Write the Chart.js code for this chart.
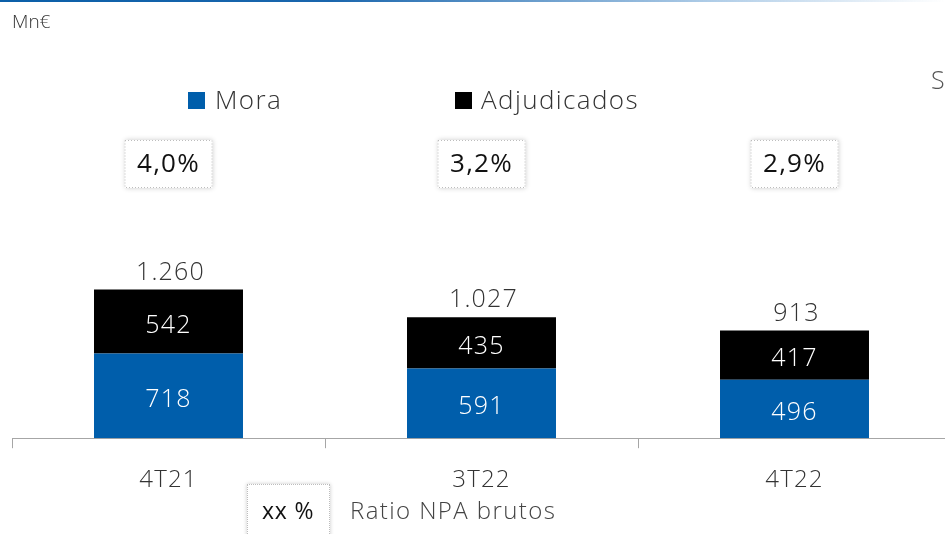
<!DOCTYPE html>
<html>
<head>
<meta charset="utf-8">
<script src="https://cdn.jsdelivr.net/npm/chart.js@4.4.1/dist/chart.umd.min.js"></script>
<style>
  html, body { margin:0; padding:0; background:#fff; width:945px; height:534px; overflow:hidden; position:relative; font-family:'Open Sans', sans-serif; font-weight:300; color:#333; }
  #wrap { position:absolute; left:0; top:0; width:960px; height:534px; }
  .abs { position:absolute; white-space:nowrap; letter-spacing:1.4px; }
  #topline { left:0; top:0; width:945px; height:2px; background:linear-gradient(to right, #0b5fa8 0%, #1a66ad 35%, rgba(120,170,215,0.6) 75%, rgba(255,255,255,0) 100%); }
  .sq { position:absolute; width:17px; height:17px; }
  .box { position:absolute; background:#fff; border:1px dotted #bdbdbd; box-shadow:0 0 4px rgba(0,0,0,0.22); }
</style>
</head>
<body>
<div id="wrap"><canvas id="c" width="960" height="534"></canvas></div>
<div id="topline" class="abs"></div>
<div class="abs" style="left:12px; top:8px; font-size:19px; color:#333; letter-spacing:0;">Mn€</div>
<div class="abs" style="left:931px; top:62px; font-size:25px; color:#555;">S</div>
<div class="sq" style="left:188px; top:92px; background:#005eab;"></div>
<div class="abs" style="left:215px; top:81px; font-size:26px; color:#333;">Mora</div>
<div class="sq" style="left:455px; top:92px; background:#000;"></div>
<div class="abs" style="left:481px; top:81px; font-size:26px; color:#333;">Adjudicados</div>
<div class="box" style="left:247px; top:484px; width:81px; height:70px;"></div>
<div class="abs" style="left:262px; top:494px; font-size:23px; color:#111; font-weight:400; letter-spacing:0.8px;">xx %</div>
<div class="abs" style="left:350px; top:493px; font-size:24px; color:#444;">Ratio NPA brutos</div>
<script>
const categories = ['4T21', '3T22', '4T22'];
const mora = [718, 591, 496];
const adjudicados = [542, 435, 417];
const totals = [1260, 1027, 913];
const ratioNPA = ['4,0%', '3,2%', '2,9%'];

const FONT = "'Open Sans', sans-serif";

function fmtThousands(v) {
  return String(v).replace(/\B(?=(\d{3})+(?!\d))/g, '.');
}

const spacingPlugin = {
  id: 'spacing',
  beforeInit(chart) { chart.ctx.letterSpacing = '1.2px'; },
  beforeDraw(chart) { chart.ctx.letterSpacing = '1.2px'; }
};

const labelPlugin = {
  id: 'labels',
  afterDatasetsDraw(chart) {
    const ctx = chart.ctx;
    ctx.save();
    ctx.letterSpacing = '1.2px';
    ctx.textAlign = 'center';
    ctx.textBaseline = 'middle';
    ctx.font = `300 25px ${FONT}`;
    chart.data.datasets.forEach((ds, di) => {
      const meta = chart.getDatasetMeta(di);
      meta.data.forEach((bar, i) => {
        ctx.fillStyle = '#ffffff';
        ctx.fillText(String(ds.data[i]), bar.x, (bar.y + bar.base) / 2 + 4);
      });
    });
    const topMeta = chart.getDatasetMeta(chart.data.datasets.length - 1);
    topMeta.data.forEach((bar, i) => {
      ctx.fillStyle = '#333333';
      ctx.fillText(fmtThousands(totals[i]), bar.x + 2, bar.y - 17);
    });
    topMeta.data.forEach((bar, i) => {
      const w = 88, h = 48, top = 140;
      const x = bar.x - w / 2;
      ctx.save();
      ctx.shadowColor = 'rgba(0,0,0,0.22)';
      ctx.shadowBlur = 5;
      ctx.fillStyle = '#fff';
      ctx.fillRect(x, top, w, h);
      ctx.restore();
      ctx.save();
      ctx.strokeStyle = '#bdbdbd';
      ctx.lineWidth = 1;
      ctx.setLineDash([1, 2]);
      ctx.strokeRect(x + 0.5, top + 0.5, w - 1, h - 1);
      ctx.restore();
      ctx.fillStyle = '#111';
      ctx.font = `400 26px ${FONT}`;
      ctx.fillText(ratioNPA[i], bar.x, top + h / 2 + 1);
      ctx.font = `300 25px ${FONT}`;
    });
    ctx.restore();
  }
};

new Chart(document.getElementById('c'), {
  type: 'bar',
  data: {
    labels: categories,
    datasets: [
      { label: 'Mora', data: mora, backgroundColor: '#005eab', borderWidth: 0 },
      { label: 'Adjudicados', data: adjudicados, backgroundColor: '#000000', borderWidth: 0 }
    ]
  },
  options: {
    responsive: false,
    animation: false,
    devicePixelRatio: 1,
    layout: { padding: { left: 12, right: 9, top: 37, bottom: 21 } },
    plugins: { legend: { display: false }, tooltip: { enabled: false } },
    datasets: { bar: { barPercentage: 0.476, categoryPercentage: 1.0 } },
    scales: {
      x: {
        stacked: true,
        offset: true,
        grid: { offset: true, drawOnChartArea: false, drawTicks: true, tickLength: 10, color: '#a6a6a6', lineWidth: 1 },
        border: { display: true, color: '#a6a6a6', width: 1 },
        ticks: { color: '#333', padding: 18, font: { family: FONT, size: 24, weight: 300 } }
      },
      y: {
        stacked: true,
        display: false,
        min: 0,
        max: 3400
      }
    }
  },
  plugins: [spacingPlugin, labelPlugin]
});
</script>
</body>
</html>
